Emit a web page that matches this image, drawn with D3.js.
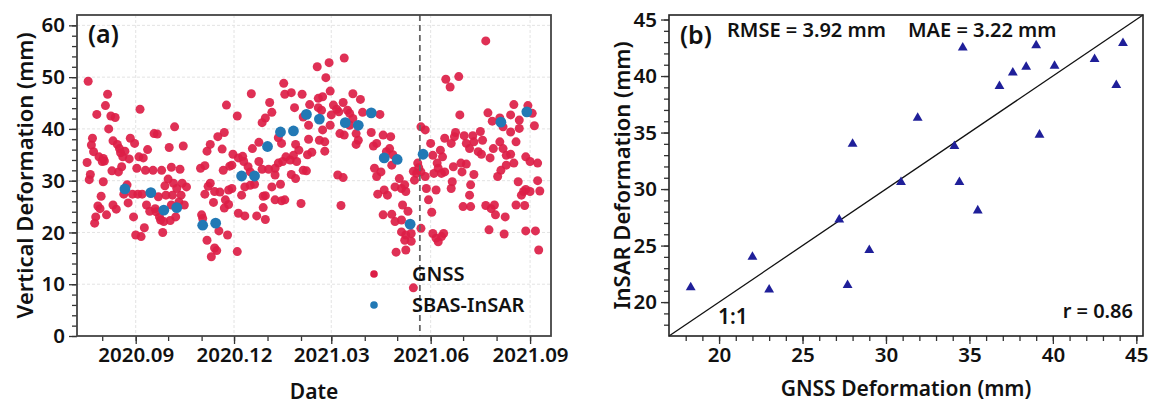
<!DOCTYPE html>
<html>
<head>
<meta charset="utf-8">
<script src="https://d3js.org/d3.v7.min.js"></script>
<style>
  body { margin: 0; background: #fff; font-family: "Noto Sans", "DejaVu Sans", sans-serif; }
  .tick text { font-family: "Noto Sans", sans-serif; font-weight: 600; font-size: 20.5px; fill: #111; }
  .tick line { stroke: #333; stroke-width: 1.3; }
  .lbl { font-family: "Noto Sans", sans-serif; font-weight: 600; fill: #111; }
</style>
</head>
<body>
<div id="viz"></div>
<script>

// ---- data ----
// GNSS daily vertical deformation: day offset from 2020-09-01, value in mm
const gnssDay = [-44,-26,-28,-36,-23,-19,4,-25,17,20,36,-40,-41,-21,-17,-15,-5,-1,44,31,11,-39,-34,-30,-29,-31,-14,-10,-12,-6,3,7,-45,-13,-16,-22,1,9,16,24,33,41,-42,-43,-30,30,27,35,43,47,38,-8,-11,-3,2,6,21,28,34,42,-32,-7,10,13,18,19,33,40,45,-35,-33,-21,-18,-37,-38,-27,-2,22,23,26,32,37,8,25,0,5,
  137,107,138,144,154,84,124,126,147,161,94,120,117,155,160,82,76,69,66,80,114,108,132,135,148,151,160,159,163,90,95,99,100,104,106,89,87,114,139,143,146,149,136,132,117,123,129,60,64,81,129,144,148,155,158,69,67,64,73,78,89,86,101,106,110,126,134,98,120,118,129,135,138,153,72,83,86,82,118,95,101,112,120,61,62,77,85,66,73,75,70,94,
  193,179,168,176,180,173,169,201,208,192,196,198,183,186,169,172,181,188,210,226,201,198,173,170,175,180,189,193,204,206,204,218,229,236,223,220,235,232,238,175,187,192,221,223,227,237,244,240,246,249,230,224,233,250,257,258,261,262,264,268,260,264,268,269,271,190,229,237,240,246,247,252,246,250,255,249,255,241,250,264,257,
  324,287,291,299,300,350,363,326,330,337,347,355,367,369,340,347,355,352,296,295,304,312,319,286,292,306,313,321,273,282,275,284,309,317,320,331,337,340,343,347,328,294,301,306,279,280,276,286,283,302,313,350,343,338,335,361,365,372,293,292,310,309,278,354,372,357,359,361,365,374,352,360,303,310,324,329,332,333,342,274,275,280,285,283,278,327,341,361,370,373];
const gnssVal = [49.2,46.7,44.5,42.8,42.5,42.2,43.8,40.0,39.1,39.0,40.4,38.2,36.9,37.7,37.0,36.2,38.2,37.2,36.7,36.4,36.0,35.6,34.6,34.3,33.8,33.7,35.4,35.7,34.6,34.2,34.6,34.4,33.5,32.7,31.7,31.9,32.4,32.0,32.0,32.0,32.6,32.2,31.2,30.2,29.8,30.3,29.0,29.5,29.5,28.8,28.5,29.2,27.4,27.4,27.4,27.4,26.9,27.2,27.2,27.2,27.0,25.7,25.3,24.1,24.6,24.0,25.3,25.9,25.3,25.1,24.6,25.3,24.5,23.0,21.8,23.4,23.0,23.0,22.4,22.1,22.3,23.0,20.9,20.0,19.5,19.2,
  48.8,46.8,46.7,47.0,46.7,44.6,45.1,43.2,44.1,44.7,42.5,42.1,41.2,42.3,40.7,39.3,38.5,37.0,35.7,36.1,37.4,36.2,38.3,37.2,37.0,35.9,38.0,35.0,35.5,35.1,34.4,34.7,33.7,32.7,31.7,33.0,32.8,33.7,34.6,34.0,34.9,33.7,33.7,33.4,32.2,32.2,32.4,32.4,32.9,32.0,31.1,31.2,30.4,32.0,31.9,29.5,28.9,27.4,27.9,27.8,28.5,28.2,28.8,29.1,29.3,28.8,29.3,27.2,27.1,27.0,26.3,26.1,26.3,25.6,25.8,26.3,25.4,24.7,24.8,23.7,23.2,23.2,22.5,23.4,22.7,20.3,19.5,18.5,17.0,16.5,15.3,16.3,
  53.7,52.8,52.0,49.9,47.3,46.2,45.9,46.8,45.7,45.1,43.6,43.0,44.6,43.8,44.1,43.6,42.7,43.3,43.2,42.8,42.0,40.7,39.8,37.8,37.5,40.7,39.1,38.8,39.1,37.8,37.0,39.3,38.8,38.5,37.2,36.7,36.2,35.6,35.0,35.7,31.1,30.6,32.4,30.8,31.7,33.0,30.4,28.8,28.5,29.2,28.2,27.4,27.2,27.9,31.8,30.1,33.4,32.5,31.7,30.8,31.4,40.4,39.8,28.5,26.3,25.2,23.4,23.5,22.1,22.4,25.3,24.1,20.1,19.5,19.8,18.5,18.3,16.2,16.6,20.8,9.3,
  57.0,49.6,48.1,50.1,42.7,44.7,44.5,43.1,41.5,42.1,42.7,41.7,43.0,40.6,40.4,39.4,40.1,37.5,39.3,38.5,38.7,38.7,39.5,38.2,37.2,37.2,37.5,37.8,37.2,35.9,34.9,34.6,36.2,35.6,35.1,36.2,37.5,36.2,34.9,35.1,34.4,32.7,33.4,33.2,33.4,32.4,31.4,31.7,31.4,31.7,31.2,33.4,33.0,32.0,30.8,34.6,33.7,33.4,29.8,28.5,29.2,27.2,28.2,29.8,30.0,27.2,27.9,28.3,27.9,28.0,25.3,25.2,25.0,25.0,25.2,24.6,25.3,23.4,23.0,23.9,19.8,18.2,19.8,19.2,18.9,20.5,19.7,20.3,20.3,16.6];

// SBAS-InSAR acquisitions
const insarDates = ["2020-08-22","2020-09-15","2020-09-27","2020-10-09","2020-11-02","2020-11-14","2020-12-08","2020-12-20","2021-01-01","2021-01-13","2021-01-25","2021-02-06","2021-02-18","2021-03-14","2021-03-26","2021-04-07","2021-04-19","2021-05-01","2021-05-13","2021-05-25","2021-08-05","2021-08-29"];
const insarVal = [28.4,27.7,24.3,24.8,21.4,21.8,30.9,30.9,36.6,39.4,39.6,42.8,41.9,41.2,40.7,43.1,34.4,34.1,21.6,35.1,41.3,43.3];

// panel (b): matched GNSS vs InSAR
const cmpGnss  = [18.3,22.0,23.0,27.2,27.7,28.0,29.0,30.9,31.9,34.1,34.4,34.6,35.5,36.8,37.6,38.4,39.0,39.2,40.1,42.5,43.8,44.2];
const cmpInsar = [21.3,24.0,21.1,27.3,21.5,34.0,24.6,30.6,36.3,33.8,30.6,42.5,28.1,39.1,40.3,40.8,42.7,34.8,40.9,41.5,39.2,42.9];

const xTickA = ["2020-09-01","2020-12-01","2021-03-01","2021-06-01","2021-09-01"];
const yTickA = [0,10,20,30,40,50,60];
const xyTickB = [20,25,30,35,40,45];
const splitDate = "2021-05-22";

const red = "#dc1e46", blue = "#2279b5", navy = "#1f1f99";
const parse = d3.utcParse("%Y-%m-%d");
const base = parse("2020-09-01");

const svg = d3.select("#viz").append("svg")
  .attr("width", 1160).attr("height", 408);

// ================= panel (a) =================
const A = {l: 77, t: 15, w: 474, h: 321};
const ga = svg.append("g").attr("transform", `translate(${A.l},${A.t})`);

const x = d3.scaleUtc()
  .domain([d3.utcHour.offset(base, -54.3*24), d3.utcHour.offset(base, 384.4*24)])
  .range([0, A.w]);
const y = d3.scaleLinear().domain([0, 62]).range([A.h, 0]);

// grid
ga.append("g").selectAll("line").data(xTickA.map(parse)).join("line")
  .attr("x1", d => x(d)).attr("x2", d => x(d)).attr("y1", 0).attr("y2", A.h)
  .attr("stroke", "#e3e3e3").attr("stroke-dasharray", "3,2");
ga.append("g").selectAll("line").data(yTickA.slice(1)).join("line")
  .attr("x1", 0).attr("x2", A.w).attr("y1", d => y(d)).attr("y2", d => y(d))
  .attr("stroke", "#e3e3e3").attr("stroke-dasharray", "3,2");

// axes
const months = d3.utcMonth.range(x.domain()[0], x.domain()[1]);
ga.append("g").attr("transform", `translate(0,${A.h})`)
  .call(d3.axisBottom(x).tickValues(months).tickSize(5).tickFormat(""))
  .call(g => g.select(".domain").remove());
ga.append("g").attr("transform", `translate(0,${A.h})`)
  .call(d3.axisBottom(x).tickValues(xTickA.map(parse)).tickSize(8).tickPadding(3)
    .tickFormat(d3.utcFormat("%Y.%m")))
  .call(g => g.select(".domain").remove());
ga.append("g")
  .call(d3.axisLeft(y).tickValues(d3.range(0, 62, 2)).tickSize(5).tickFormat(""))
  .call(g => g.select(".domain").remove());
ga.append("g")
  .call(d3.axisLeft(y).tickValues(yTickA).tickSize(8).tickPadding(4))
  .call(g => g.select(".domain").remove());

// GNSS points
ga.append("g").selectAll("circle").data(gnssDay).join("circle")
  .attr("cx", (d, i) => x(d3.utcDay.offset(base, d)))
  .attr("cy", (d, i) => y(gnssVal[i]))
  .attr("r", 4.5)
  .attr("fill", red).attr("fill-opacity", 0.92);

// split line
ga.append("line")
  .attr("x1", x(parse(splitDate))).attr("x2", x(parse(splitDate)))
  .attr("y1", 0).attr("y2", A.h)
  .attr("stroke", "#666").attr("stroke-width", 1.8).attr("stroke-dasharray", "6,4");

// InSAR points
ga.append("g").selectAll("circle").data(insarDates).join("circle")
  .attr("cx", d => x(parse(d)))
  .attr("cy", (d, i) => y(insarVal[i]))
  .attr("r", 5.4)
  .attr("fill", blue);

ga.append("rect").attr("width", A.w).attr("height", A.h)
  .attr("fill", "none").attr("stroke", "#444").attr("stroke-width", 1.8);

// legend
const leg = ga.append("g");
[["GNSS", red, 259], ["SBAS-InSAR", blue, 290]].forEach(([t, c, yy]) => {
  leg.append("circle").attr("cx", 297).attr("cy", yy).attr("r", 3.8).attr("fill", c);
  leg.append("text").attr("class", "lbl").attr("x", 335).attr("y", yy + 7)
    .style("font-size", "20px").text(t);
});

ga.append("text").attr("class", "lbl").attr("x", 11).attr("y", 28)
  .style("font-size", "25px").text("(a)");

svg.append("text").attr("class", "lbl").attr("text-anchor", "middle")
  .attr("x", A.l + A.w/2).attr("y", 399).style("font-size", "21px").text("Date");
svg.append("text").attr("class", "lbl").attr("text-anchor", "middle")
  .attr("transform", `translate(33,${A.t + A.h/2}) rotate(-90)`)
  .style("font-size", "22px").text("Vertical Deformation (mm)");

// ================= panel (b) =================
const B = {l: 669, t: 15, w: 474, h: 321};
const gb = svg.append("g").attr("transform", `translate(${B.l},${B.t})`);

const xb = d3.scaleLinear().domain([17, 45.4]).range([0, B.w]);
const yb = d3.scaleLinear().domain([17, 45.4]).range([B.h, 0]);

gb.append("g").attr("transform", `translate(0,${B.h})`)
  .call(d3.axisBottom(xb).tickValues(d3.range(18, 46)).tickSize(5).tickFormat(""))
  .call(g => g.select(".domain").remove());
gb.append("g").attr("transform", `translate(0,${B.h})`)
  .call(d3.axisBottom(xb).tickValues(xyTickB).tickSize(8).tickPadding(3))
  .call(g => g.select(".domain").remove());
gb.append("g")
  .call(d3.axisLeft(yb).tickValues(d3.range(18, 46)).tickSize(5).tickFormat(""))
  .call(g => g.select(".domain").remove());
gb.append("g")
  .call(d3.axisLeft(yb).tickValues(xyTickB).tickSize(8).tickPadding(4))
  .call(g => g.select(".domain").remove());

// 1:1 line
gb.append("line")
  .attr("x1", xb(17)).attr("y1", yb(17)).attr("x2", xb(45.4)).attr("y2", yb(45.4))
  .attr("stroke", "#111").attr("stroke-width", 1.3);

gb.append("g").selectAll("path").data(cmpGnss).join("path")
  .attr("d", d3.symbol(d3.symbolTriangle, 42))
  .attr("transform", (d, i) => `translate(${xb(d)},${yb(cmpInsar[i])})`)
  .attr("fill", navy);

gb.append("rect").attr("width", B.w).attr("height", B.h)
  .attr("fill", "none").attr("stroke", "#222").attr("stroke-width", 1.6);

gb.append("text").attr("class", "lbl").attr("x", 11).attr("y", 29)
  .style("font-size", "25px").text("(b)");
gb.append("text").attr("class", "lbl").attr("x", 58).attr("y", 22)
  .style("font-size", "20px").text("RMSE = 3.92 mm");
gb.append("text").attr("class", "lbl").attr("x", 239).attr("y", 22)
  .style("font-size", "20px").text("MAE = 3.22 mm");
gb.append("text").attr("class", "lbl").attr("text-anchor", "end").attr("x", 464).attr("y", 303)
  .style("font-size", "20px").text("r = 0.86");
gb.append("text").attr("class", "lbl").attr("x", 49).attr("y", 309)
  .style("font-size", "21px").text("1:1");

svg.append("text").attr("class", "lbl").attr("text-anchor", "middle")
  .attr("x", B.l + B.w/2).attr("y", 396).style("font-size", "21px").text("GNSS Deformation (mm)");
svg.append("text").attr("class", "lbl").attr("text-anchor", "middle")
  .attr("transform", `translate(630,${B.t + B.h/2}) rotate(-90)`)
  .style("font-size", "22px").text("InSAR Deformation (mm)");

</script>
</body>
</html>
